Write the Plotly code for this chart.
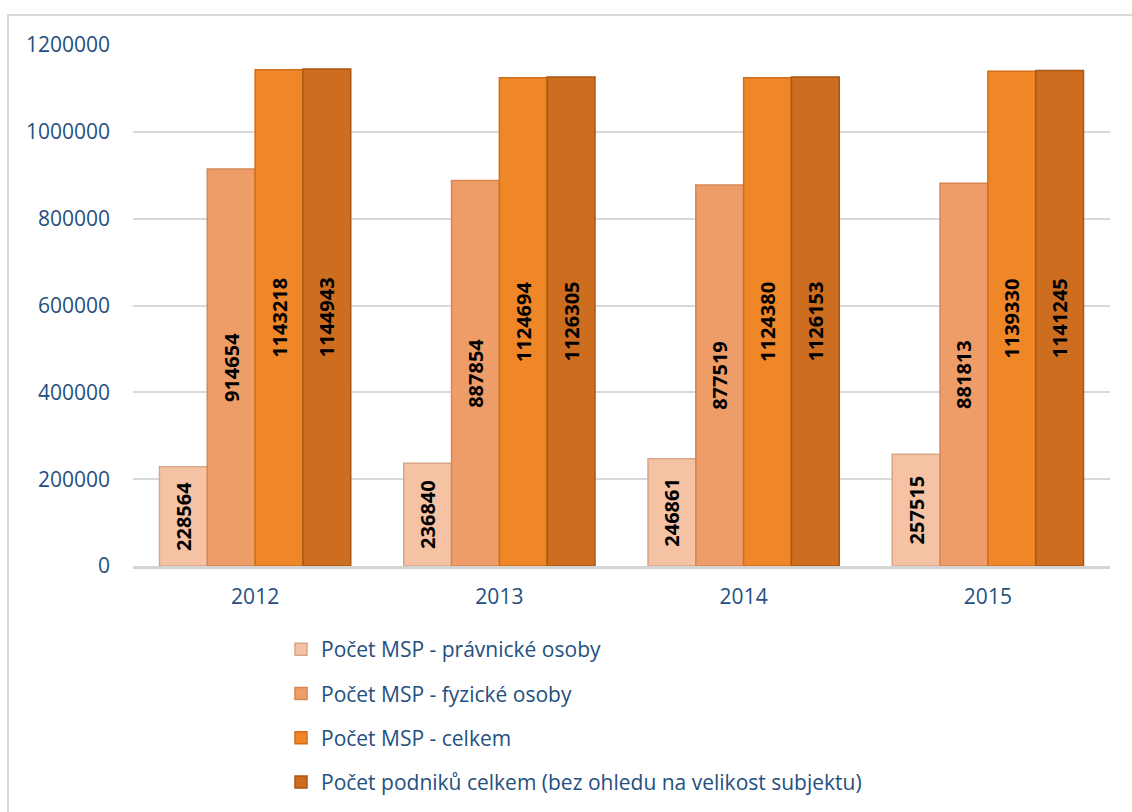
import plotly.graph_objects as go

years = ["2012", "2013", "2014", "2015"]
series_names = [
    "Počet MSP - právnické osoby",
    "Počet MSP - fyzické osoby",
    "Počet MSP - celkem",
    "Počet podniků celkem (bez ohledu na velikost subjektu)",
]
pravnicke = [228564, 236840, 246861, 257515]
fyzicke = [914654, 887854, 877519, 881813]
msp_celkem = [1143218, 1124694, 1124380, 1139330]
podniky_celkem = [1144943, 1126305, 1126153, 1141245]
y_ticks = [0, 200000, 400000, 600000, 800000, 1000000, 1200000]

colors = ["#F5C3A4", "#EF9D68", "#EF8628", "#CD6D1F"]
edge_colors = ["#D9A587", "#D88550", "#D06F18", "#A95714"]
all_series = [pravnicke, fyzicke, msp_celkem, podniky_celkem]

W, H = 1132, 812
ml, mr, mt, mb = 133, 22, 45, 246
pw, ph = W - ml - mr, H - mt - mb

fig = go.Figure()
for i, (name, vals) in enumerate(zip(series_names, all_series)):
    fig.add_trace(go.Bar(
        x=years, y=vals, name=name,
        marker=dict(color=colors[i], line=dict(color=edge_colors[i], width=1.5)),
        text=[str(v) for v in vals],
        textposition="inside",
        insidetextanchor="middle",
        textangle=-90,
        textfont=dict(family="Open Sans", size=20, color="black", weight="bold"),
        legendgroup=f"g{i}",
    ))

tick_font = dict(family="Open Sans", size=21, color="#24507F")

fig.update_layout(
    width=W, height=H,
    margin=dict(l=ml, r=mr, t=mt, b=mb, autoexpand=False),
    paper_bgcolor="white", plot_bgcolor="white",
    barmode="group", bargap=0.217, bargroupgap=0,
    uniformtext=dict(mode="show", minsize=8),
    showlegend=True,
    legend=dict(
        orientation="v", x=(281 - ml) / pw, xanchor="left",
        y=(566 - 629) / ph, yanchor="top",
        traceorder="grouped", tracegroupgap=14,
        font=dict(family="Open Sans", size=21, color="#24507F"),
        bgcolor="rgba(0,0,0,0)",
    ),
    xaxis=dict(
        type="category", showgrid=False, showline=True,
        linecolor="#D4D4D4", linewidth=2.5, ticks="",
        tickfont=tick_font, ticklabelstandoff=10,
    ),
    yaxis=dict(
        range=[0, 1200000], tickvals=y_ticks, ticktext=[str(t) for t in y_ticks],
        showgrid=True, gridcolor="#D9D9D9", gridwidth=1.5,
        zeroline=False, showline=False, ticks="",
        tickfont=tick_font, ticklabelstandoff=22,
    ),
    shapes=[dict(
        type="rect", xref="paper", yref="paper",
        x0=(8 - ml) / pw, x1=(1145 - ml) / pw,
        y0=(566 - 830) / ph, y1=1 + (mt - 15) / ph,
        line=dict(color="#D9D9D9", width=2), fillcolor="rgba(0,0,0,0)", layer="below",
    )],
)

fig.write_html("out.html")
